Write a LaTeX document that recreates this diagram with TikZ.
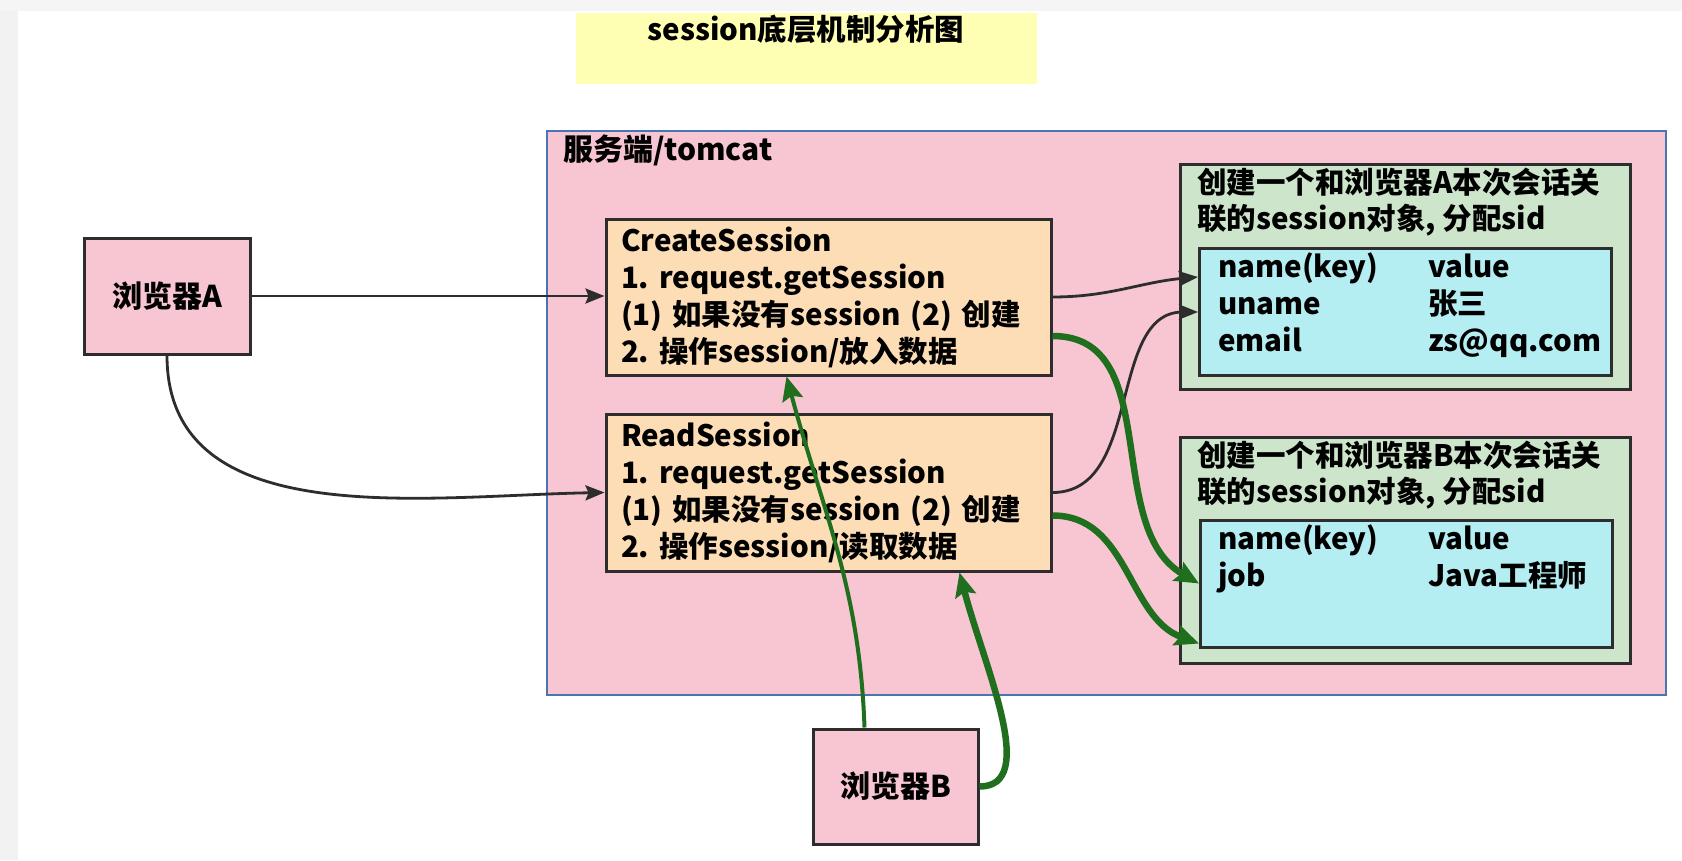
\documentclass[tikz,border=0pt]{standalone}
\usepackage{fontspec}
\setmainfont{Noto Sans CJK SC}
\usetikzlibrary{arrows.meta,calc,positioning}
\frenchspacing

\definecolor{pinkbg}{HTML}{F8C6D3}
\definecolor{peach}{HTML}{FCDDB5}
\definecolor{sessgreen}{HTML}{CDE6CB}
\definecolor{tblcyan}{HTML}{B4EEF2}
\definecolor{noteyellow}{HTML}{FFFFB3}
\definecolor{flowgreen}{HTML}{1F6F1F}
\definecolor{edgegrey}{HTML}{2D2D2D}
\definecolor{selblue}{HTML}{4A75B5}

\begin{document}
\begin{tikzpicture}[x=1pt, y=1pt,
  box/.style={draw=edgegrey, line width=3pt, inner sep=0pt},
  browser/.style={box, fill=pinkbg, minimum width=166, minimum height=116,
    font=\fontsize{30}{34}\selectfont\bfseries},
  servlet/.style={box, fill=peach, minimum width=445, minimum height=156,
    text width=415, align=left, font=\fontsize{29.5}{37}\selectfont\bfseries},
  sess/.style={box, fill=sessgreen, minimum width=450, minimum height=225},
  tbl/.style={box, fill=tblcyan, minimum width=412, minimum height=127},
  txt/.style={anchor=north west, inner sep=0pt, align=left,
    font=\fontsize{29.5}{36}\selectfont\bfseries},
  link/.style={draw=edgegrey, line width=2.8pt, -{Stealth[length=19pt,width=15pt,inset=3pt]}},
  flow/.style={draw=flowgreen, line width=6.5pt, -{Stealth[length=24pt,width=21pt,inset=4pt]}},
  flowthin/.style={flow, line width=4pt}]

  % --- background ---
  \fill[white] (0,0) rectangle (1682,-860);
  \fill[black!5] (0,0) rectangle (18,-860);
  \fill[black!4] (0,0) rectangle (1682,-11);
  \useasboundingbox (0,0) rectangle (1682,-860);

  % --- title ---
  \node[fill=noteyellow, minimum width=461, minimum height=71, inner sep=0pt] (title) at (806.5,-48.5) {};
  \node[inner sep=0pt, font=\fontsize{29.5}{32}\selectfont\bfseries] (titletxt) at (806,-29) {session底层机制分析图};

  % --- server ---
  \node[fill=pinkbg, draw=selblue, line width=2.8pt, minimum width=1119, minimum height=564] (server) at (1106.5,-413) {};
  \node[anchor=west, inner sep=0pt, font=\fontsize{30}{34}\selectfont\bfseries] (servertxt) at (563,-150) {服务端/tomcat};

  % --- browsers ---
  \node[browser] (browserA) at (167,-296) {浏览器A};
  \node[browser, minimum width=165, minimum height=115] (browserB) at (895.5,-786.5) {浏览器B};

  % --- servlets ---
  \node[servlet] (create) at (828.5,-297) {CreateSession\\1. request.getSession\\(1) 如果没有session (2) 创建\\2. 操作session/放入数据};
  \node[servlet, minimum height=157] (read) at (828.5,-492.5) {ReadSession\\1. request.getSession\\(1) 如果没有session (2) 创建\\2. 操作session/读取数据};

  % --- session of A ---
  \node[sess] (sessA) at (1405,-276.5) {};
  \node[txt] (sessAtxt) at (1197,-168) {创建一个和浏览器A本次会话关\\联的session对象, 分配sid};
  \node[tbl] (tblA) at (1405.5,-312) {};
  \node[txt, font=\fontsize{29.5}{37}\selectfont\bfseries] (tblAtxt) at (1218,-251) {\begin{tabular}{@{}p{210pt}@{}l@{}}
    name(key) & value\\ uname & 张三\\ email & zs@qq.com \end{tabular}};

  % --- session of B ---
  \node[sess, minimum height=226] (sessB) at (1405,-550) {};
  \node[txt] (sessBtxt) at (1197,-441) {创建一个和浏览器B本次会话关\\联的session对象, 分配sid};
  \node[tbl] (tblB) at (1406.5,-583.5) {};
  \node[txt, font=\fontsize{29.5}{37}\selectfont\bfseries] (tblBtxt) at (1218,-523) {\begin{tabular}{@{}p{210pt}@{}l@{}}
    name(key) & value\\ job & Java工程师 \end{tabular}};

  % --- requests of A ---
  \draw[link] (browserA.east) -- (browserA.east -| create.west);
  \draw[link] (browserA.south) to[out=-90, in=181] (read.west);
  \draw[link] (create.east) to[out=0, in=185] ($(tblA.west)+(0,35)$);
  \draw[link] (read.east) to[out=0, in=180] (tblA.west);

  % --- requests of B ---
  \draw[flow] ($(create.east)+(0,-39)$) to[out=0, in=150] (tblB.west);
  \draw[flow] ($(read.east)+(0,-23)$) to[out=0, in=160] ($(tblB.south west)+(0,5)$);
  \draw[flowthin] ($(browserB.north)+(-31,0)$) to[out=92, in=-75] ($(create.south)+(-42,0)$);
  \draw[flow] (browserB.east) .. controls +(60,0) and +(25,-95) .. ($(read.south)+(131,0)$);
\end{tikzpicture}
\end{document}
